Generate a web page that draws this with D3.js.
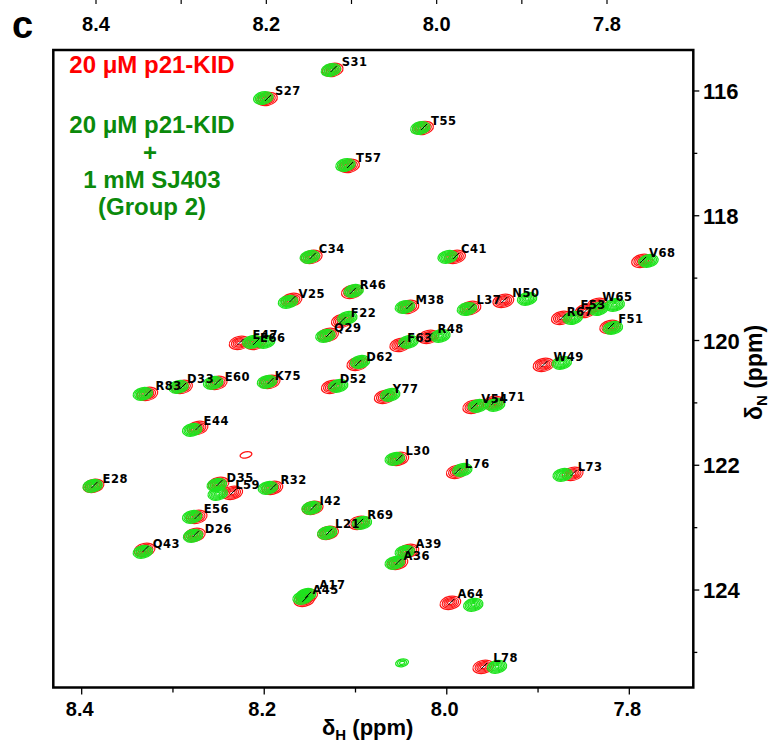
<!DOCTYPE html>
<html><head><meta charset="utf-8">
<script src="https://cdn.jsdelivr.net/npm/d3@7"></script>
<style>html,body{margin:0;padding:0;background:#fff;}svg{display:block;}</style>
</head><body>
<script>
// ---- data ----
const residues = ["S31","S27","T57","T55","C34","C41","V25","R46","M38","L37","N50","F22","Q29","E47","E66","F63","R48","D62","K75","E60","D33","R83","D52","Y77","V54","L71","W49","V68","W65","F53","R67","F51","E44","E28","D35","L59","R32","E56","D26","Q43","L30","L76","L73","I42","L21","R69","A39","A36","A17","A45","A64","L78"];
// free p21-KID (red)
const freeH = [8.125,8.197,8.107,8.026,8.148,7.991,8.170,8.104,8.042,7.974,7.938,8.115,8.130,8.227,8.210,8.051,8.020,8.098,8.194,8.252,8.290,8.328,8.126,8.068,7.971,7.949,7.894,7.786,7.835,7.848,7.874,7.821,8.273,8.387,8.250,8.235,8.191,8.274,8.276,8.331,8.053,7.989,7.862,8.147,8.130,8.096,8.042,8.054,8.153,8.156,7.996,7.960];
const freeN = [115.663,116.128,117.202,116.593,118.660,118.660,119.349,119.221,119.462,119.478,119.365,119.686,119.910,120.038,120.038,120.071,119.942,120.375,120.663,120.679,120.744,120.856,120.744,120.904,121.064,121.000,120.391,118.724,119.429,119.526,119.638,119.782,121.401,122.330,122.298,122.442,122.362,122.827,123.115,123.356,121.897,122.106,122.138,122.683,123.083,122.923,123.372,123.564,124.093,124.157,124.205,125.231];
// p21-KID + 1 mM SJ403 (green)
const boundH = [8.127,8.201,8.111,8.029,8.150,7.999,8.174,8.102,8.046,7.978,7.912,8.109,8.133,8.213,8.199,8.042,8.007,8.095,8.197,8.256,8.294,8.333,8.119,8.062,7.966,7.947,7.874,7.779,7.816,7.834,7.862,7.818,8.279,8.388,8.252,8.251,8.196,8.279,8.278,8.333,8.057,7.983,7.873,8.148,8.131,8.093,8.046,8.057,8.154,8.158,7.971,7.945];
const boundN = [115.663,116.112,117.186,116.593,118.660,118.660,119.381,119.205,119.462,119.494,119.333,119.638,119.926,120.022,120.022,120.022,119.926,120.343,120.663,120.679,120.744,120.856,120.728,120.872,121.048,121.032,120.359,118.724,119.429,119.494,119.638,119.798,121.433,122.330,122.314,122.458,122.362,122.827,123.131,123.388,121.897,122.074,122.154,122.683,123.083,122.923,123.388,123.564,124.077,124.125,124.237,125.231];
// unassigned peaks
const extraFreeH = [8.220], extraFreeN = [121.833];
const extraBoundH = [8.049], extraBoundN = [125.167];
// tick values
const xTicksMajor = [8.4, 8.2, 8.0, 7.8];
const xTicksMinor = [8.3, 8.1, 7.9];
const yTicksMajor = [116, 118, 120, 122, 124];
const yTicksMinor = [117, 119, 121, 123, 125];
const legendFree = ["20 \u03bcM p21-KID"];
const legendBound = ["20 \u03bcM p21-KID", "+", "1 mM SJ403", "(Group 2)"];

// label offsets (layout, px)
const labelDx = [9,8,7,8,7,6,7,8,7,6,9,9,6,13,5,7,9,9,5,8,5,8,8,8,8,7,10,7,5,-5,5,8,6,9,8,3,8,7,10,8,7,8,5,7,7,8,7,6,12,8,7,10];
const labelDy = [-4,-4,-4,-3,-4,-4,-2,-3,-3,-4,-4,-4,-3,-4,-1,-3,-4,-3,-2,-2,-4,-4,-4,-4,-4,-2,-4,-4,-4,-2,-2,-4,-3,-3,-2,-4,-4,-4,-2,-2,-4,-4,-3,-3,-5,-4,-3,-3,-7,-6,-5,-5];

// ---- layout ----
const W = 769, H = 742;
const L = 53.3, R = 693.3, T = 50, B = 687.5;
const x = d3.scaleLinear().domain([8.4311, 7.7299]).range([L, R]);
const y = d3.scaleLinear().domain([115.343, 125.5625]).range([T, B]);
const xTop = d3.scaleLinear().domain([8.4, 7.8]).range([96, 607]);

const svg = d3.select("body").append("svg").attr("width", W).attr("height", H);
const FONT = "'Liberation Sans', Arial, sans-serif";

// panel letter
svg.append("text").attr("x", 12).attr("y", 38).attr("font-family", FONT)
  .attr("font-weight", "bold").attr("font-size", 38).text("c");

// top axis (cropped from adjacent panel)
const topG = svg.append("g");
topG.selectAll("line").data(xTicksMajor.concat(xTicksMinor)).enter().append("line")
  .attr("x1", d => xTop(d)).attr("x2", d => xTop(d)).attr("y1", 0).attr("y2", 4)
  .attr("stroke", "#000").attr("stroke-width", 1.2);
topG.selectAll("text").data(xTicksMajor).enter().append("text")
  .attr("x", d => xTop(d)).attr("y", 31).attr("text-anchor", "middle")
  .attr("font-family", FONT).attr("font-weight", "bold").attr("font-size", 20)
  .text(d => d.toFixed(1));

// peaks
const plot = svg.append("g");
plot.append("clipPath").attr("id", "clip").append("rect")
  .attr("x", L).attr("y", T).attr("width", R - L).attr("height", B - T);
const pg = plot.append("g").attr("clip-path", "url(#clip)");

function drawPeak(g, cx, cy, color, rx, ry, rings, sw) {
  const gg = g.append("g").attr("transform", `translate(${cx},${cy}) rotate(-12)`);
  gg.selectAll("ellipse").data(rings).enter().append("ellipse")
    .attr("cx", 0).attr("cy", 0)
    .attr("rx", k => rx * k).attr("ry", k => ry * k)
    .attr("fill", "none").attr("stroke", color).attr("stroke-width", sw);
}
const redRings = [1, 0.8, 0.62, 0.45, 0.28];
const greenRings = [1, 0.84, 0.68, 0.52, 0.36, 0.2];
const RED = "#ff1414", GREEN = "#1ee41e";

residues.forEach((r, i) => drawPeak(pg, x(freeH[i]), y(freeN[i]), RED, 10.5, 6.5, redRings, 1.2));
extraFreeH.forEach((h, i) => drawPeak(pg, x(h), y(extraFreeN[i]), RED, 6, 3, [1], 1.3));
residues.forEach((r, i) => drawPeak(pg, x(boundH[i]), y(boundN[i]), GREEN, 9.8, 6.2, greenRings, 1.3));
extraBoundH.forEach((h, i) => drawPeak(pg, x(h), y(extraBoundN[i]), GREEN, 6.5, 3.8, [1, 0.7, 0.4], 1.3));

// labels + leader marks
residues.forEach((r, i) => {
  const cx = x(freeH[i]), cy = y(freeN[i]);
  const lx = cx + labelDx[i], ly = cy + labelDy[i];
  pg.append("line").attr("x1", cx - 2).attr("y1", cy + 2).attr("x2", cx + 4).attr("y2", cy - 4)
    .attr("stroke", "#000").attr("stroke-width", 1);
  pg.append("text").attr("x", lx).attr("y", ly)
    .attr("font-family", "'DejaVu Sans', sans-serif").attr("font-weight", "bold")
    .attr("font-size", 11.5).attr("letter-spacing", 0.5).attr("fill", "#000").text(r);
});

// frame
svg.append("rect").attr("x", L).attr("y", T).attr("width", R - L).attr("height", B - T)
  .attr("fill", "none").attr("stroke", "#000").attr("stroke-width", 2.5);

// bottom axis ticks
svg.append("g").selectAll("line").data(xTicksMajor.concat(xTicksMinor)).enter().append("line")
  .attr("x1", d => x(d)).attr("x2", d => x(d)).attr("y1", B)
  .attr("y2", d => B + (xTicksMajor.includes(d) ? 7 : 5))
  .attr("stroke", "#000").attr("stroke-width", 1.3);
svg.append("g").selectAll("text").data(xTicksMajor).enter().append("text")
  .attr("x", d => x(d) - 2).attr("y", 716).attr("text-anchor", "middle")
  .attr("font-family", FONT).attr("font-weight", "bold").attr("font-size", 20)
  .text(d => d.toFixed(1));

// right axis ticks
svg.append("g").selectAll("line").data(yTicksMajor.concat(yTicksMinor)).enter().append("line")
  .attr("y1", d => y(d)).attr("y2", d => y(d)).attr("x1", R)
  .attr("x2", d => R + (yTicksMajor.includes(d) ? 6 : 4))
  .attr("stroke", "#000").attr("stroke-width", 1.3);
svg.append("g").selectAll("text").data(yTicksMajor).enter().append("text")
  .attr("x", 703).attr("y", d => y(d) + 8)
  .attr("font-family", FONT).attr("font-weight", "bold").attr("font-size", 22)
  .text(d => d);

// axis titles
const xt = svg.append("text").attr("x", 322).attr("y", 735)
  .attr("font-family", FONT).attr("font-weight", "bold").attr("font-size", 22);
xt.append("tspan").text("\u03b4");
xt.append("tspan").attr("font-size", 15).attr("dy", 5).text("H");
xt.append("tspan").attr("dy", -5).text(" (ppm)");

const yt = svg.append("text").attr("transform", "translate(762,420) rotate(-90)")
  .attr("font-family", FONT).attr("font-weight", "bold").attr("font-size", 23);
yt.append("tspan").text("\u03b4");
yt.append("tspan").attr("font-size", 15).attr("dy", 5).text("N");
yt.append("tspan").attr("dy", -5).text(" (ppm)");

// legend
svg.append("text").attr("x", 152).attr("y", 73).attr("text-anchor", "middle")
  .attr("font-family", FONT).attr("font-weight", "bold").attr("font-size", 24)
  .attr("fill", "#ff0000").text(legendFree[0]);
const lgY = [133, 160.5, 188, 215];
legendBound.forEach((t, i) => {
  svg.append("text").attr("x", i === 1 ? 150 : 152).attr("y", lgY[i]).attr("text-anchor", "middle")
    .attr("font-family", FONT).attr("font-weight", "bold").attr("font-size", 24)
    .attr("fill", "#0b8a0b").text(t);
});
</script>
</body></html>
